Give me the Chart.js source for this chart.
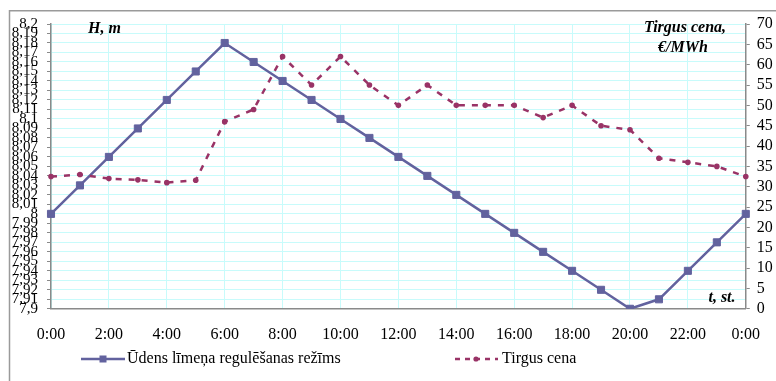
<!DOCTYPE html>
<html>
<head>
<meta charset="utf-8">
<script src="https://cdn.jsdelivr.net/npm/chart.js@4/dist/chart.umd.min.js"></script>
<style>
  html, body { margin: 0; padding: 0; background: #fff; }
  #wrap { width: 776px; height: 381px; position: relative; }
</style>
</head>
<body>
<div id="wrap"><canvas id="c" width="776" height="381"></canvas></div>
<script>
// Hours of the day (0:00 .. 24:00 shown as 0:00)
const hours = ['0:00','1:00','2:00','3:00','4:00','5:00','6:00','7:00','8:00','9:00','10:00','11:00',
  '12:00','13:00','14:00','15:00','16:00','17:00','18:00','19:00','20:00','21:00','22:00','23:00','0:00'];

// Water level regulation mode, H in metres
const waterLevel = [8.00, 8.03, 8.06, 8.09, 8.12, 8.15, 8.18, 8.16, 8.14, 8.12, 8.10, 8.08,
  8.06, 8.04, 8.02, 8.00, 7.98, 7.96, 7.94, 7.92, 7.90, 7.91, 7.94, 7.97, 8.00];

// Market price, EUR/MWh
const marketPrice = [32.5, 33, 32, 31.7, 31, 31.6, 46, 49, 62, 55, 62, 55,
  50, 55, 50, 50, 50, 47, 50, 45, 44, 37, 36, 35, 32.5];

const seriesNames = ['Ūdens līmeņa regulēšanas režīms', 'Tirgus cena'];

const BLUE = '#62629e';
const RED = '#993366';
const GRID = '#c8fbfb';
const AXIS = '#8a8a8a';
const SERIF = '"Liberation Serif", "Times New Roman", serif';

const fmtLevel = v => Number(v.toFixed(2)).toString().replace('.', ',');

// Outer frame and white background
const framePlugin = {
  id: 'frame',
  beforeDraw(chart) {
    const ctx = chart.ctx;
    ctx.save();
    ctx.fillStyle = '#fff';
    ctx.fillRect(0, 0, chart.width, chart.height);
    ctx.strokeStyle = '#9a9a9a';
    ctx.lineWidth = 1.5;
    ctx.strokeRect(9.5, 10.75, chart.width + 20, chart.height + 20);
    ctx.restore();
  }
};

// Axis captions and bottom legend
const captionPlugin = {
  id: 'captions',
  afterDraw(chart) {
    const ctx = chart.ctx;
    ctx.save();
    ctx.fillStyle = '#000';
    ctx.textBaseline = 'middle';
    ctx.font = 'italic bold 16px ' + SERIF;
    ctx.textAlign = 'left';
    ctx.fillText('H, m', 88, 29);
    ctx.textAlign = 'center';
    ctx.fillText('Tirgus cena,', 685, 28);
    ctx.fillText('€/MWh', 683, 48);
    ctx.fillText('t, st.', 722, 298);

    // legend
    const ly = 359;
    ctx.font = '16px ' + SERIF;
    ctx.textAlign = 'left';
    ctx.strokeStyle = BLUE;
    ctx.lineWidth = 2.5;
    ctx.beginPath(); ctx.moveTo(81, ly); ctx.lineTo(125, ly); ctx.stroke();
    ctx.fillStyle = BLUE;
    ctx.fillRect(99.5, ly - 3.5, 7, 7);
    ctx.fillStyle = '#000';
    ctx.fillText(seriesNames[0], 127, ly);

    ctx.strokeStyle = RED;
    ctx.setLineDash([5, 5]);
    ctx.beginPath(); ctx.moveTo(455, ly); ctx.lineTo(498, ly); ctx.stroke();
    ctx.setLineDash([]);
    ctx.fillStyle = RED;
    ctx.beginPath(); ctx.arc(476, ly, 2.6, 0, Math.PI * 2); ctx.fill();
    ctx.fillStyle = '#000';
    ctx.fillText(seriesNames[1], 502, ly);
    ctx.restore();
  }
};

new Chart(document.getElementById('c'), {
  type: 'line',
  data: {
    labels: hours,
    datasets: [
      {
        label: seriesNames[0],
        data: waterLevel,
        yAxisID: 'yLevel',
        borderColor: BLUE,
        backgroundColor: BLUE,
        borderWidth: 2.5,
        pointStyle: 'rect',
        pointRadius: 5,
        pointBorderWidth: 1,
        pointBackgroundColor: BLUE,
        pointBorderColor: BLUE,
        tension: 0,
        order: 2
      },
      {
        label: seriesNames[1],
        data: marketPrice,
        yAxisID: 'yPrice',
        borderColor: RED,
        backgroundColor: RED,
        borderWidth: 2.5,
        borderDash: [6, 7],
        pointStyle: 'circle',
        pointRadius: 2.8,
        pointBorderWidth: 0,
        pointBackgroundColor: RED,
        tension: 0,
        order: 1
      }
    ]
  },
  options: {
    responsive: false,
    animation: false,
    devicePixelRatio: 1,
    layout: { padding: { top: 24, left: 0, right: 0, bottom: 21 } },
    plugins: {
      legend: { display: false },
      tooltip: { enabled: false },
      title: { display: false }
    },
    scales: {
      x: {
        type: 'category',
        offset: false,
        grid: {
          color: ctx => (ctx.index % 2 === 0 ? GRID : 'rgba(0,0,0,0)'),
          lineWidth: 1,
          drawTicks: false
        },
        border: { color: AXIS, width: 1.5 },
        ticks: {
          autoSkip: false,
          maxRotation: 0,
          minRotation: 0,
          padding: 16,
          color: '#000',
          font: { family: SERIF, size: 16 },
          callback: (v, i) => (i % 2 === 0 ? hours[i] : '')
        }
      },
      yLevel: {
        type: 'linear',
        position: 'left',
        min: 7.9,
        max: 8.2,
        afterFit: s => { s.width = 51; },
        grid: { color: GRID, lineWidth: 1, tickColor: AXIS, tickLength: 4 },
        border: { color: AXIS, width: 1.5 },
        ticks: {
          stepSize: 0.01,
          autoSkip: false,
          padding: 9,
          color: '#000',
          font: { family: SERIF, size: 15 },
          callback: v => fmtLevel(v)
        }
      },
      yPrice: {
        type: 'linear',
        position: 'right',
        min: 0,
        max: 70,
        afterFit: s => { s.width = 27; },
        grid: { drawOnChartArea: false, tickColor: AXIS, tickLength: 4 },
        border: { color: AXIS, width: 1.5 },
        ticks: {
          stepSize: 5,
          autoSkip: false,
          padding: 7,
          color: '#000',
          font: { family: SERIF, size: 16 }
        }
      }
    }
  },
  plugins: [framePlugin, captionPlugin]
});
</script>
</body>
</html>
